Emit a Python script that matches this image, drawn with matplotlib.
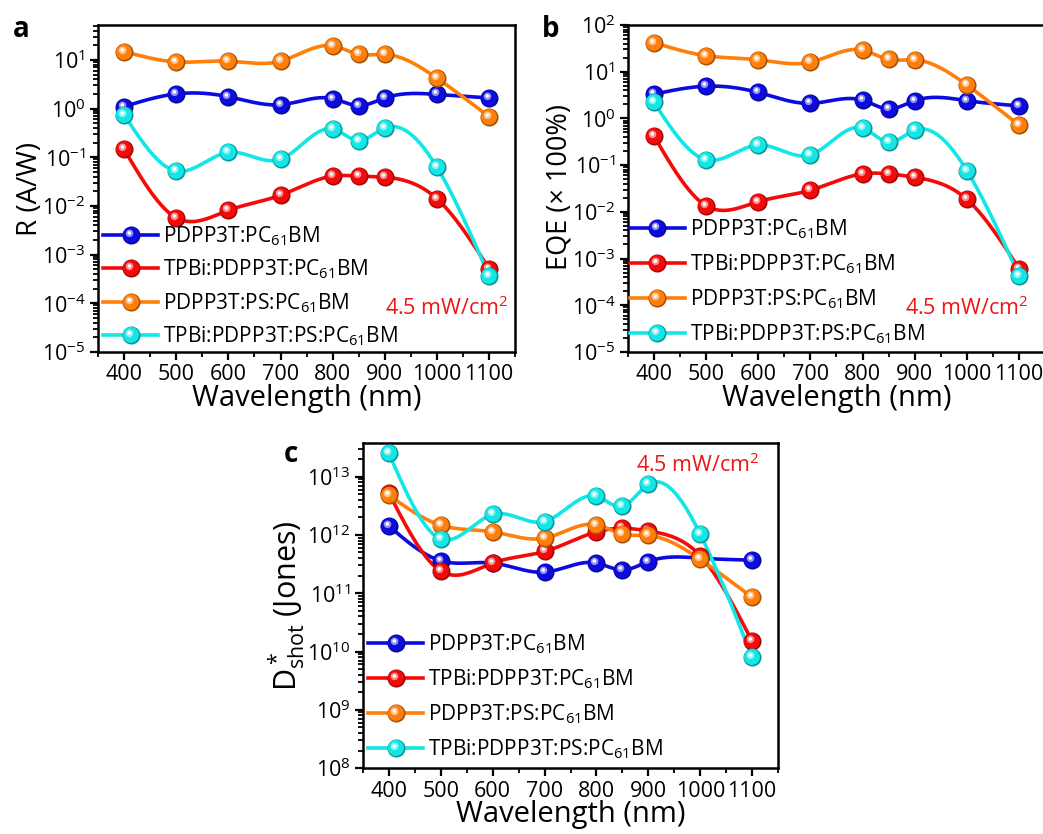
import numpy as np
import matplotlib
matplotlib.use('Agg')
import matplotlib.pyplot as plt
from matplotlib.path import Path
from matplotlib.lines import Line2D
from matplotlib.colors import to_rgb
from matplotlib.ticker import MultipleLocator, FixedLocator, LogLocator, LogFormatterMathtext, NullFormatter

plt.rcParams['font.family'] = ['Open Sans', 'DejaVu Sans']
plt.rcParams['mathtext.fontset'] = 'custom'
plt.rcParams['mathtext.rm'] = 'Open Sans'
plt.rcParams['mathtext.it'] = 'Open Sans:italic'
plt.rcParams['mathtext.bf'] = 'Open Sans:bold'

# data
wavelength = [400, 500, 600, 700, 800, 850, 900, 1000, 1100]
labels = ['PDPP3T:PC$_{61}$BM', 'TPBi:PDPP3T:PC$_{61}$BM',
          'PDPP3T:PS:PC$_{61}$BM', 'TPBi:PDPP3T:PS:PC$_{61}$BM']
colors = ['#0c0ce0', '#f50a0a', '#ff7f0a', '#12e6e6']

# responsivity (A/W)
r_blue = [1.1, 2.0, 1.75, 1.2, 1.6, 1.15, 1.65, 1.95, 1.65]
r_red = [0.145, 5.7e-3, 8.1e-3, 0.0166, 0.041, 0.041, 0.039, 0.014, 5.1e-4]
r_orange = [14.8, 9.1, 9.4, 9.4, 19.4, 13.0, 13.0, 4.2, 0.68]
r_cyan = [0.74, 0.052, 0.126, 0.091, 0.38, 0.22, 0.40, 0.062, 3.6e-4]

# EQE (x 100%)
eqe_blue = [3.3, 4.9, 3.6, 2.1, 2.45, 1.6, 2.4, 2.4, 1.86]
eqe_red = [0.42, 0.0135, 0.0165, 0.029, 0.065, 0.065, 0.055, 0.0185, 6.1e-4]
eqe_orange = [42, 22, 18, 16, 29, 18.3, 18, 5.2, 0.72]
eqe_cyan = [2.2, 0.13, 0.27, 0.166, 0.62, 0.31, 0.56, 0.076, 4.3e-4]

# D*shot (Jones)
d_blue = [1.42e12, 3.6e11, 3.3e11, 2.3e11, 3.3e11, 2.5e11, 3.5e11, 4.0e11, 3.7e11]
d_red = [5.2e12, 2.4e11, 3.3e11, 5.2e11, 1.13e12, 1.3e12, 1.17e12, 4.4e11, 1.5e10]
d_orange = [4.8e12, 1.47e12, 1.13e12, 8.8e11, 1.5e12, 1.03e12, 9.8e11, 3.8e11, 8.5e10]
d_cyan = [2.5e13, 8.5e11, 2.25e12, 1.7e12, 4.6e12, 3.1e12, 7.4e12, 1.03e12, 7.9e9]


def natural_spline(x, y, n=400):
    x = np.asarray(x, float)
    y = np.asarray(y, float)
    k = len(x)
    h = np.diff(x)
    A = np.zeros((k, k))
    b = np.zeros(k)
    A[0, 0] = A[-1, -1] = 1
    for i in range(1, k - 1):
        A[i, i - 1] = h[i - 1]
        A[i, i] = 2 * (h[i - 1] + h[i])
        A[i, i + 1] = h[i]
        b[i] = 3 * ((y[i + 1] - y[i]) / h[i] - (y[i] - y[i - 1]) / h[i - 1])
    c = np.linalg.solve(A, b)
    bb = (y[1:] - y[:-1]) / h - h * (2 * c[:-1] + c[1:]) / 3
    d = (c[1:] - c[:-1]) / (3 * h)
    xs = np.linspace(x[0], x[-1], n)
    idx = np.clip(np.searchsorted(x, xs) - 1, 0, k - 2)
    dx = xs - x[idx]
    ys = y[idx] + bb[idx] * dx + c[idx] * dx ** 2 + d[idx] * dx ** 3
    return xs, ys


def disc(cx, cy, r):
    # circle marker off-centre; the two corner moves keep the marker scale fixed
    circ = Path.circle((cx, cy), r)
    verts = np.vstack([[[-0.5, -0.5], [0.5, 0.5]], circ.vertices])
    codes = [Path.MOVETO, Path.MOVETO] + list(circ.codes)
    return Path(verts, codes)


def mix(col, other, t):
    a = np.array(to_rgb(col))
    o = np.array(to_rgb(other))
    return tuple(a * (1 - t) + o * t)


MS = 13
body = disc(-0.03, 0.03, 0.44)
glow = disc(-0.11, 0.12, 0.21)
spot = disc(-0.12, 0.14, 0.1)


def ball_styles(col):
    return [dict(marker='o', mfc=mix(col, 'k', 0.35), mew=0),
            dict(marker=body, mfc=col, mew=0),
            dict(marker=glow, mfc=mix(col, 'w', 0.55), mew=0),
            dict(marker=spot, mfc='w', mew=0)]


def draw_panel(ax, series):
    handles = []
    for vals, col in zip(series, colors):
        xs, ls = natural_spline(wavelength, np.log10(vals))
        ax.plot(xs, 10 ** ls, color=col, lw=2.6, zorder=2)
        hnd = [Line2D([], [], color=col, lw=2.6)]
        for st in ball_styles(col):
            ax.plot(wavelength, vals, ls='none', ms=MS, zorder=3, **st)
            hnd.append(Line2D([], [], ls='none', ms=MS, **st))
        handles.append(tuple(hnd))
    return handles


def style_axis(ax, ylim):
    ax.set_yscale('log')
    ax.set_xlim(350, 1150)
    ax.set_ylim(*ylim)
    ax.xaxis.set_major_locator(FixedLocator([400, 500, 600, 700, 800, 900, 1000, 1100]))
    ax.xaxis.set_minor_locator(MultipleLocator(50))
    ax.yaxis.set_major_locator(LogLocator(base=10, numticks=20))
    ax.yaxis.set_major_formatter(LogFormatterMathtext())
    ax.yaxis.set_minor_locator(LogLocator(base=10, subs=np.arange(2, 10), numticks=20))
    ax.yaxis.set_minor_formatter(NullFormatter())
    ax.tick_params(which='major', direction='out', length=6, width=1.6, labelsize=15.5, pad=3)
    ax.tick_params(which='minor', direction='out', length=3.5, width=1.3)
    ax.tick_params(top=False, right=False, which='both')
    for sp in ax.spines.values():
        sp.set_linewidth(1.8)
    ax.set_xlabel('Wavelength (nm)', fontsize=21, labelpad=-1)


fig = plt.figure(figsize=(10.43, 8.34), dpi=100)

ax_a = fig.add_axes([0.094, 0.578, 0.400, 0.392])
ax_b = fig.add_axes([0.602, 0.578, 0.400, 0.392])
ax_c = fig.add_axes([0.348, 0.079, 0.398, 0.390])

h_a = draw_panel(ax_a, [r_blue, r_red, r_orange, r_cyan])
style_axis(ax_a, (1e-5, 52))
ax_a.set_ylabel('R (A/W)', fontsize=20)
ax_a.yaxis.set_label_coords(-0.13, 0.5)

h_b = draw_panel(ax_b, [eqe_blue, eqe_red, eqe_orange, eqe_cyan])
style_axis(ax_b, (1e-5, 1e2))
ax_b.set_ylabel('EQE (× 100%)', fontsize=19.5)
ax_b.yaxis.set_label_coords(-0.13, 0.505)

h_c = draw_panel(ax_c, [d_blue, d_red, d_orange, d_cyan])
style_axis(ax_c, (1e8, 3.8e13))
ax_c.set_ylabel('D$^*_{\\mathrm{shot}}$ (Jones)', fontsize=22)
ax_c.yaxis.set_label_coords(-0.135, 0.5)

leg_opts = [(ax_a, h_a, (0.012, 0.011), 0.48),
            (ax_b, h_b, (0.004, 0.017), 0.55),
            (ax_c, h_c, (0.012, 0.021), 0.55)]
for ax, h, anchor, spacing in leg_opts:
    ax.legend(h, labels, loc='lower left', bbox_to_anchor=anchor,
              frameon=False, fontsize=15, handlelength=2.65, handletextpad=0.25,
              labelspacing=spacing, borderaxespad=0, borderpad=0)

red_txt = '#f01414'
ax_a.text(0.985, 0.135, '4.5 mW/cm$^2$', transform=ax_a.transAxes, color=red_txt,
          fontsize=15.5, ha='right', va='center')
ax_b.text(0.96, 0.135, '4.5 mW/cm$^2$', transform=ax_b.transAxes, color=red_txt,
          fontsize=15.5, ha='right', va='center')
ax_c.text(0.955, 0.93, '4.5 mW/cm$^2$', transform=ax_c.transAxes, color=red_txt,
          fontsize=15.5, ha='right', va='center')

fig.text(0.012, 0.965, 'a', fontsize=20, fontweight='bold', ha='left', va='center')
fig.text(0.52, 0.965, 'b', fontsize=20, fontweight='bold', ha='left', va='center')
fig.text(0.272, 0.455, 'c', fontsize=20, fontweight='bold', ha='left', va='center')

fig.savefig('out.png', dpi=100)
